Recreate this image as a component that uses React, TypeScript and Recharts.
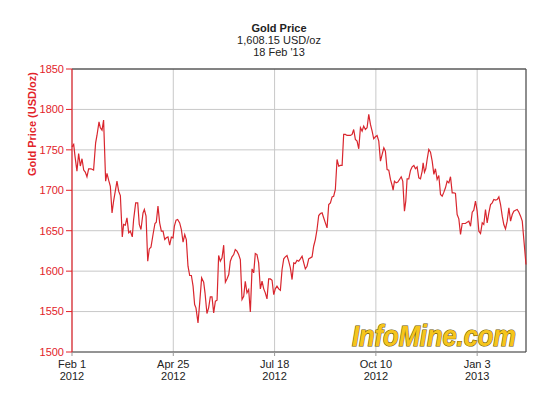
import React from "react";
import { LineChart, Line, XAxis, YAxis, CartesianGrid, ReferenceLine } from "recharts";

// Day offsets from Feb 1 2012
const days = [
  0, 1.4, 2.5, 4.1, 5.5, 6.9, 8.3, 9.7, 11.0, 12.4, 13.8, 15.7, 17.9, 19.6, 20.7, 22.4, 23.5, 24.9, 26.2, 27.9,
  29.0, 30.4, 31.8, 33.2, 34.5, 35.9, 37.3, 38.7, 40.1, 41.7, 42.8, 44.2, 45.6, 47.0, 48.4, 50.0, 51.1, 52.8, 54.5, 55.8,
  57.2, 58.9, 60.0, 61.4, 62.8, 64.1, 65.5, 67.2, 68.8, 69.9, 71.3, 72.7, 74.1, 75.5, 76.9, 78.2, 79.6, 81.0, 82.4, 83.8,
  84.9, 86.3, 87.6, 89.3, 90.7, 92.1, 93.5, 94.8, 96.2, 97.6, 99.0, 100.4, 101.7, 102.8, 104.5, 105.9, 107.5, 109.2, 110.3, 111.9,
  113.3, 114.7, 116.1, 117.5, 118.9, 120.3, 121.6, 123.0, 124.4, 125.8, 127.2, 128.6, 130.0, 131.3,
  132.7, 134.1, 135.4, 136.8, 138.2, 139.6, 141.0, 142.4, 143.7, 145.1, 146.5, 147.9, 149.3, 150.7, 152.0, 153.4, 154.8, 156.2, 157.6, 159.0,
  160.3, 161.7, 163.1, 164.5, 165.9, 167.3, 168.6, 170.0, 171.4, 172.8, 174.2, 175.6, 176.9, 178.3, 179.7, 181.1, 182.5, 183.9, 185.2, 186.6,
  188.0, 189.4, 190.8, 192.2, 193.5, 194.9, 196.3, 197.7, 199.1, 200.4, 201.8, 203.2, 204.6, 206.0, 207.4, 208.7, 210.1, 211.5, 212.9, 214.3,
  215.7, 217.0, 218.4, 219.8, 221.2, 222.6, 224.0, 225.3, 226.7, 228.1, 229.5, 230.9, 232.3, 233.6, 235.0, 236.4, 237.8, 239.2, 240.6, 241.9,
  243.3, 244.7, 246.1, 247.5, 248.9, 250.2, 251.6,
  253.0, 254.4, 255.8, 257.2, 258.6, 259.9, 261.3, 262.7, 264.1, 265.5, 266.3, 267.4, 268.8, 270.2, 271.6, 273.0, 274.3, 275.7, 276.8, 277.9,
  279.3, 280.7, 282.1, 283.5, 284.8, 286.2, 287.6, 289.0, 290.4, 291.2, 292.3, 293.4, 294.5, 295.9, 297.3, 298.7, 300.1, 301.4, 302.8, 304.2,
  305.6, 307.0, 308.4, 309.7, 311.1, 312.5, 313.9, 315.3, 316.7, 318.0, 319.4, 320.8, 322.2, 323.6, 325.0, 326.3, 327.7, 329.1, 330.5, 331.9,
  333.2, 334.6, 336.0, 337.4, 338.8, 340.2, 341.5, 342.9, 344.3, 345.7, 347.1, 348.5, 349.8, 351.2, 352.6, 354.0, 355.4, 356.8, 358.1, 359.5,
  360.9, 362.3, 363.7, 365.1, 366.4, 367.8, 369.2, 370.6, 372.0, 373.4, 374.7, 376.5,
];

// Gold price, USD/oz
const prices = [
  1753.8, 1756.7, 1742, 1723.7, 1745.5, 1730, 1739, 1725, 1722.5, 1716.7, 1726.6, 1726.6, 1725, 1758.7, 1767.8, 1784.7, 1777.3, 1774.4, 1786.8, 1711.3,
  1720.8, 1712.5, 1705, 1672, 1686.5, 1698.9, 1711.3, 1698.9, 1693.5, 1642.4, 1657.7, 1656.8, 1665.9, 1647.4, 1649.4, 1642.4, 1663.8, 1684.4, 1684.4, 1657.7,
  1651.5, 1672, 1676.2, 1668, 1612.3, 1627.5, 1629.6, 1645.3, 1658.9, 1660.5, 1680.4, 1659.7, 1649.4, 1649.4, 1639.1, 1641.2, 1642.4, 1632.1, 1642, 1641.2,
  1655.6, 1663, 1663.8, 1659.7, 1651.5, 1635.8, 1645.3, 1639.1, 1606.1, 1594.6, 1594.6, 1581.4, 1558.7, 1554.6, 1536, 1560.8, 1591.7, 1586.4, 1573.2, 1547.6,
  1554.6, 1568.2, 1568.2, 1548.4, 1562.8, 1564.1, 1619.3, 1612.3, 1616.4, 1632.1, 1586.4, 1590.5, 1595.8, 1612.3,
  1617.7, 1620.5, 1626.7, 1624.7, 1620.5, 1614.4, 1564.9, 1569, 1587.5, 1573.1, 1577.2, 1549.6, 1602.8, 1597.9, 1621.8, 1620.5, 1610.2, 1578.1, 1587.5, 1578.1,
  1573.1, 1565.7, 1590.4, 1590.4, 1588.8, 1571, 1578.1, 1581.4, 1578.1, 1576.4, 1602, 1615.2, 1617.7, 1619.3, 1612.3, 1604, 1589.6, 1610.2, 1609.4, 1613.5,
  1612.3, 1615.2, 1618.5, 1610.2, 1602.8, 1606.1, 1615.2, 1616.4, 1617.7, 1630.8, 1639.1, 1651.5, 1668.8, 1671.3, 1672.1, 1666, 1659.7, 1653.5, 1682.4, 1684.5,
  1691.9, 1692.7, 1701, 1738.1, 1729.9, 1730.7, 1730.7, 1769.1, 1769.1, 1767.8, 1767.8, 1767.8, 1769.1, 1775.2, 1762.9, 1760.8, 1751.3, 1777.3, 1773.2, 1779.4,
  1775.2, 1777.3, 1793.8, 1781.4, 1773.2, 1763.7, 1766.2,
  1767.8, 1760.8, 1736.1, 1744.3, 1752.6, 1748.4, 1725.7, 1724.9, 1713.4, 1705.9, 1700.2, 1711.3, 1709.2, 1710.1, 1713.4, 1716.7, 1711.3, 1674.2, 1686.6, 1714.2,
  1714.2, 1724.5, 1729.0, 1730.7, 1726.6, 1729.0, 1715.4, 1714.2, 1723.7, 1734, 1722.4, 1726.6, 1738.1, 1750.5, 1747.2, 1736.1, 1719.6, 1726.6, 1713.4, 1718.3,
  1694.8, 1692.7, 1697.7, 1703.1, 1711.3, 1709.2, 1716.7, 1696.9, 1696.9, 1696, 1670, 1664.7, 1645.3, 1658.9, 1658.9, 1658.9, 1660.6, 1661.8, 1655.6, 1672.9,
  1675.4, 1686.6, 1674.2, 1649.4, 1646.5, 1659.7, 1657.7, 1676.2, 1659.7, 1672.1, 1682.4, 1684.5, 1688.6, 1687.8, 1688.6, 1691.9, 1682.4, 1668, 1657.7, 1652.3,
  1661.8, 1678.3, 1661.8, 1670, 1674.2, 1675.4, 1676.2, 1672.9, 1668, 1661.8, 1639.1, 1608.15,
];

const xTicks = [0, 84, 168, 252, 336];
const xTickLabels = [
  ["Feb 1", "2012"],
  ["Apr 25", "2012"],
  ["Jul 18", "2012"],
  ["Oct 10", "2012"],
  ["Jan 3", "2013"],
];
const yTicks = [1500, 1550, 1600, 1650, 1700, 1750, 1800, 1850];

const title = "Gold Price";
const subtitle1 = "1,608.15 USD/oz";
const subtitle2 = "18 Feb '13";
const yLabel = "Gold Price (USD/oz)";
const watermark = "InfoMine.com";

const data = days.map((d, i) => ({ day: d, price: prices[i] }));

const FONT = "Arial, 'Liberation Sans', sans-serif";
const RED = "#e2232a";

const XTick = (props: any) => {
  const { x, y, payload } = props;
  const idx = xTicks.indexOf(payload.value);
  const lbl = xTickLabels[idx] || ["", ""];
  return (
    <g>
      <text x={x} y={y + 10} textAnchor="middle" fill="#222" fontSize={11} fontFamily={FONT}>
        {lbl[0]}
      </text>
      <text x={x} y={y + 22} textAnchor="middle" fill="#222" fontSize={11} fontFamily={FONT}>
        {lbl[1]}
      </text>
    </g>
  );
};

export default function App() {
  const lastDay = days[days.length - 1];
  return (
    <div style={{ position: "absolute", left: 0, top: 0, width: 550, height: 398, background: "#fff" }}>
      <LineChart
        width={550}
        height={398}
        data={data}
        margin={{ top: 69, right: 24, left: 0, bottom: 16 }}
        style={{ fontFamily: FONT }}
      >
        <CartesianGrid stroke="#c8c8c8" strokeWidth={1} />
        <XAxis
          dataKey="day"
          type="number"
          domain={[0, lastDay]}
          ticks={xTicks}
          interval={0}
          height={30}
          tick={<XTick />}
          tickSize={4}
          tickMargin={2}
          tickLine={{ stroke: "#999" }}
          axisLine={{ stroke: "#444", strokeWidth: 1.2 }}
        />
        <YAxis
          type="number"
          domain={[1500, 1850]}
          ticks={yTicks}
          interval={0}
          width={72}
          tickSize={6}
          tickMargin={2}
          tick={{ fill: RED, fontSize: 11, fontFamily: FONT }}
          tickLine={{ stroke: RED }}
          axisLine={{ stroke: RED, strokeWidth: 1.2 }}
        />
        <ReferenceLine y={1850} stroke="#222" strokeWidth={1.2} />
        <ReferenceLine x={lastDay} stroke="#555" strokeWidth={1.2} />
        <Line
          type="linear"
          dataKey="price"
          stroke="#d9262e"
          strokeWidth={1.2}
          dot={false}
          isAnimationActive={false}
        />
      </LineChart>
      <svg
        width={550}
        height={398}
        style={{ position: "absolute", left: 0, top: 0, pointerEvents: "none" }}
      >
        <text x={279} y={32} textAnchor="middle" fontSize={11} fontWeight="bold" fill="#222" fontFamily={FONT}>
          {title}
        </text>
        <text x={279} y={44} textAnchor="middle" fontSize={11} fill="#222" fontFamily={FONT}>
          {subtitle1}
        </text>
        <text x={279} y={56} textAnchor="middle" fontSize={11} fill="#222" fontFamily={FONT}>
          {subtitle2}
        </text>
        <text
          transform="translate(36,124) rotate(-90)"
          textAnchor="middle"
          fontSize={11}
          fontWeight="bold"
          fill={RED}
          fontFamily={FONT}
        >
          {yLabel}
        </text>
        <text
          x={352}
          y={346}
          fontSize={29}
          fontWeight="bold"
          fontStyle="italic"
          fill="#f6c51c"
          stroke="#6b5600"
          strokeWidth={1.2}
          paintOrder="stroke"
          textLength={164}
          lengthAdjust="spacingAndGlyphs"
          fontFamily={FONT}
        >
          {watermark}
        </text>
      </svg>
    </div>
  );
}
